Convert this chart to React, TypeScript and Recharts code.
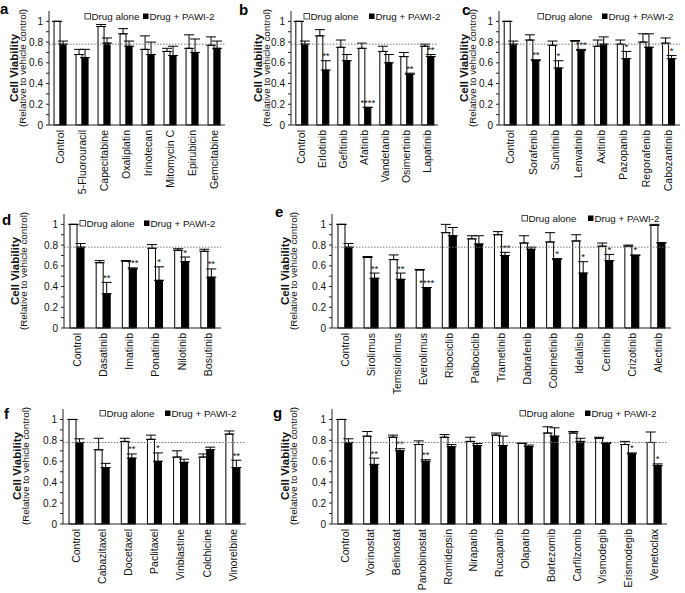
import React from 'react';
import { BarChart, Bar, XAxis, YAxis, ErrorBar, ReferenceLine } from 'recharts';

const FONT = '"Liberation Sans", Arial, Helvetica, sans-serif';

// panel a
const drugsA = ['Control', '5-Fluorouracil', 'Capecitabine', 'Oxaliplatin', 'Irinotecan', 'Mitomycin C', 'Epirubicin', 'Gemcitabine'];
const aloneA = [1.0, 0.68, 0.95, 0.88, 0.73, 0.71, 0.74, 0.77];
const aloneErrA = [0, 0.05, 0.02, 0.05, 0.13, 0.03, 0.13, 0.08];
const pawiA = [0.78, 0.65, 0.79, 0.76, 0.68, 0.67, 0.7, 0.74];
const pawiErrA = [0.03, 0.08, 0.05, 0.05, 0.12, 0.09, 0.13, 0.07];
const sigA = ['', '', '', '', '', '', '', ''];

// panel b
const drugsB = ['Control', 'Erlotinib', 'Gefitinib', 'Afatinib', 'Vandetanib', 'Osimertinib', 'Lapatinib'];
const aloneB = [1.0, 0.86, 0.75, 0.74, 0.71, 0.66, 0.76];
const aloneErrB = [0, 0.06, 0.07, 0.05, 0.05, 0.04, 0.02];
const pawiB = [0.78, 0.53, 0.62, 0.17, 0.6, 0.49, 0.66];
const pawiErrB = [0.03, 0.09, 0.06, 0, 0.08, 0.01, 0.02];
const sigB = ['', '**', '', '****', '', '**', '**'];

// panel c
const drugsC = ['Control', 'Sorafenib', 'Sunitinib', 'Lenvatinib', 'Axitinib', 'Pazopanib', 'Regorafenib', 'Cabozantinib'];
const aloneC = [1.0, 0.82, 0.77, 0.81, 0.76, 0.78, 0.8, 0.79];
const aloneErrC = [0, 0.05, 0.04, 0.005, 0.06, 0.04, 0.08, 0.05];
const pawiC = [0.78, 0.62, 0.55, 0.72, 0.78, 0.64, 0.75, 0.64];
const pawiErrC = [0.03, 0.01, 0.07, 0.01, 0.07, 0.07, 0.13, 0.03];
const sigC = ['', '**', '*', '***', '', '*', '', '*'];

// panel d
const drugsD = ['Control', 'Dasatinib', 'Imatinib', 'Ponatinib', 'Nilotinib', 'Bosutinib'];
const aloneD = [1.0, 0.63, 0.645, 0.77, 0.75, 0.74];
const aloneErrD = [0, 0.02, 0.005, 0.035, 0.015, 0.02];
const pawiD = [0.78, 0.33, 0.57, 0.46, 0.64, 0.49];
const pawiErrD = [0.035, 0.11, 0.01, 0.13, 0.045, 0.08];
const sigD = ['', '**', '***', '*', '*', '**'];

// panel e
const drugsE = ['Control', 'Sirolimus', 'Temsirolimus', 'Everolimus', 'Ribociclib', 'Palbociclib', 'Trametinib', 'Dabrafenib', 'Cobimetinib', 'Idelalisib', 'Ceritinib', 'Crizotinib', 'Alectinib'];
const aloneE = [1.0, 0.68, 0.66, 0.56, 0.92, 0.86, 0.9, 0.82, 0.83, 0.84, 0.79, 0.79, 0.99];
const aloneErrE = [0, 0.01, 0.045, 0.005, 0.08, 0.03, 0.03, 0.07, 0.09, 0.06, 0.03, 0.01, 0.01];
const pawiE = [0.78, 0.48, 0.47, 0.39, 0.89, 0.81, 0.7, 0.76, 0.66, 0.53, 0.65, 0.7, 0.82];
const pawiErrE = [0.035, 0.05, 0.06, 0, 0.08, 0.08, 0.03, 0.02, 0.01, 0.11, 0.06, 0.005, 0.005];
const sigE = ['', '**', '**', '****', '', '', '***', '', '*', '*', '*', '*', ''];

// panel f
const drugsF = ['Control', 'Cabazitaxel', 'Docetaxel', 'Paclitaxel', 'Vinblastine', 'Colchicine', 'Vinorelbine'];
const aloneF = [1.0, 0.71, 0.79, 0.81, 0.64, 0.64, 0.86];
const aloneErrF = [0, 0.11, 0.03, 0.04, 0.06, 0.03, 0.03];
const pawiF = [0.78, 0.54, 0.63, 0.6, 0.59, 0.71, 0.54];
const pawiErrF = [0.035, 0.04, 0.04, 0.08, 0.03, 0.025, 0.07];
const sigF = ['', '', '**', '*', '', '', '**'];

// panel g
const drugsG = ['Control', 'Vorinostat', 'Belinostat', 'Panobinostat', 'Romidepsin', 'Niraparib', 'Rucaparib', 'Olaparib', 'Bortezomib', 'Carfilzomib', 'Vismodegib', 'Erismodegib', 'Venetoclax'];
const aloneG = [1.0, 0.84, 0.83, 0.76, 0.83, 0.79, 0.85, 0.77, 0.87, 0.87, 0.82, 0.76, 0.78];
const aloneErrG = [0, 0.045, 0.02, 0.035, 0.025, 0.04, 0.02, 0.005, 0.06, 0.015, 0.01, 0.03, 0.1];
const pawiG = [0.78, 0.57, 0.7, 0.6, 0.74, 0.75, 0.75, 0.74, 0.84, 0.79, 0.77, 0.67, 0.56];
const pawiErrG = [0.035, 0.06, 0.02, 0.015, 0.02, 0.02, 0.09, 0.015, 0.08, 0.03, 0.01, 0.01, 0.015];
const sigG = ['', '**', '**', '**', '', '', '', '', '', '', '', '*', '*'];

const yTicks = [0, 0.1, 0.2, 0.3, 0.4, 0.5, 0.6, 0.7, 0.8, 0.9, 1.0];
const cutoff = 0.78;

type Row = {
  name: string; alone: number; aloneErr: number[]; pawi: number; pawiErr: number[]; ep: number; sig: string;
};

function makeRows(names: string[], alone: number[], aErr: number[], pawi: number[], pErr: number[], sig: string[]): Row[] {
  return names.map((n, i) => ({
    name: n,
    alone: alone[i],
    aloneErr: [0, aErr[i]],
    pawi: pawi[i],
    pawiErr: [0, pErr[i]],
    ep: pErr[i],
    sig: sig[i],
  }));
}

const fmtTick = (v: number) => {
  const k = Math.round(v * 10);
  if (k % 2) return '';
  if (k === 0) return '0';
  if (k === 10) return '1';
  return (k / 10).toFixed(1);
};

const XTick = (props: any) => {
  const { x, y, payload } = props;
  const ty = y + 2;
  return (
    <text x={x} y={ty} transform={`rotate(-90 ${x} ${ty})`} textAnchor="end" dy="0.36em"
      fontSize={10.5} fill="#111" fontFamily={FONT}>
      {payload.value}
    </text>
  );
};

const YW = 30;
const MT = 4;
const XH = 80;

interface PanelProps {
  rows: Row[];
  axisX: number;
  right: number;
  top: number;
  bottom: number;
}

function Panel({ rows, axisX, right, top, bottom }: PanelProps) {
  const width = right - axisX + YW + 3;
  const height = MT + (bottom - top) + XH;

  // black bar plus its significance stars, set just above the error bar
  const pawiShape = (p: any) => {
    const x = Number(p.x), y = Number(p.y), w = Number(p.width), hh = Number(p.height);
    const h = Math.abs(hh);
    const topY = Math.min(y, y + hh);
    let row: any = rows[p.index];
    if (!row && p.payload) row = p.payload;
    const sig = row ? row.sig : '';
    const errPx = row && row.pawi ? (row.ep / row.pawi) * h : 0;
    return (
      <g>
        <rect x={x} y={topY} width={w} height={h} fill="#000" stroke="#000" strokeWidth={1} />
        {sig ? (
          <text x={x + w / 2} y={topY - errPx - 1.5} textAnchor="middle" fontSize={9.5}
            fill="#111" fontFamily={FONT}>{sig}</text>
        ) : null}
      </g>
    );
  };

  return (
    <div style={{ position: 'absolute', left: axisX - YW, top: top - MT }}>
      <BarChart width={width} height={height} data={rows}
        margin={{ top: MT, right: 3, left: 0, bottom: 0 }}
        barCategoryGap="23%" barGap={0}>
        <XAxis dataKey="name" interval={0} tickLine={false} tickSize={0} tickMargin={3}
          height={XH} axisLine={{ stroke: '#222' }} tick={<XTick />} />
        <YAxis width={YW} domain={[0, 1.1]} ticks={yTicks} interval={0}
          tickSize={3} tickMargin={3} tickFormatter={fmtTick}
          axisLine={{ stroke: '#222' }} tickLine={{ stroke: '#222' }}
          tick={{ fontSize: 10, fill: '#111', fontFamily: FONT }} />
        <Bar dataKey="alone" fill="#fff" stroke="#000" strokeWidth={1} isAnimationActive={false}>
          <ErrorBar dataKey="aloneErr" direction="y" width={5} stroke="#000" strokeWidth={1} />
        </Bar>
        <Bar dataKey="pawi" fill="#000" shape={pawiShape} isAnimationActive={false}>
          <ErrorBar dataKey="pawiErr" direction="y" width={5} stroke="#000" strokeWidth={1} />
        </Bar>
        <ReferenceLine y={cutoff} stroke="#777" strokeDasharray="1.5 1.5" strokeWidth={1} />
      </BarChart>
    </div>
  );
}

function Legend({ x, y }: { x: number; y: number }) {
  return (
    <g fontFamily={FONT} fontSize={9.8} fill="#111">
      <rect x={x} y={y - 6.5} width={5.5} height={5.5} fill="#fff" stroke="#222" strokeWidth={0.8} />
      <text x={x + 6.5} y={y}>Drug alone</text>
    </g>
  );
}

function Legend2({ x, y }: { x: number; y: number }) {
  return (
    <g fontFamily={FONT} fontSize={9.8} fill="#111">
      <rect x={x} y={y - 6.5} width={5.5} height={5.5} fill="#000" />
      <text x={x + 6.5} y={y}>Drug + PAWI-2</text>
    </g>
  );
}

function YTitle({ x, y }: { x: number; y: number }) {
  return (
    <g fontFamily={FONT} fill="#111">
      <text x={x} y={y} transform={`rotate(-90 ${x} ${y})`} textAnchor="middle" dy="0.36em"
        fontSize={11.5} fontWeight="bold">Cell Viability</text>
      <text x={x + 8.5} y={y} transform={`rotate(-90 ${x + 8.5} ${y})`} textAnchor="middle" dy="0.36em"
        fontSize={9.8}>(Relative to vehicle control)</text>
    </g>
  );
}

const rowsA = makeRows(drugsA, aloneA, aloneErrA, pawiA, pawiErrA, sigA);
const rowsB = makeRows(drugsB, aloneB, aloneErrB, pawiB, pawiErrB, sigB);
const rowsC = makeRows(drugsC, aloneC, aloneErrC, pawiC, pawiErrC, sigC);
const rowsD = makeRows(drugsD, aloneD, aloneErrD, pawiD, pawiErrD, sigD);
const rowsE = makeRows(drugsE, aloneE, aloneErrE, pawiE, pawiErrE, sigE);
const rowsF = makeRows(drugsF, aloneF, aloneErrF, pawiF, pawiErrF, sigF);
const rowsG = makeRows(drugsG, aloneG, aloneErrG, pawiG, pawiErrG, sigG);

export default function App() {
  return (
    <div style={{ position: 'absolute', left: 0, top: 0, width: 685, height: 593, background: '#fff', overflow: 'hidden', fontFamily: FONT }}>
      <Panel rows={rowsA} axisX={49} right={225} top={11} bottom={125} />
      <Panel rows={rowsB} axisX={291} right={438} top={11} bottom={125} />
      <Panel rows={rowsC} axisX={499} right={680} top={11} bottom={125} />
      <Panel rows={rowsD} axisX={64} right={221} top={214} bottom={328} />
      <Panel rows={rowsE} axisX={332} right={671} top={214} bottom={328} />
      <Panel rows={rowsF} axisX={63} right={246} top={409} bottom={524} />
      <Panel rows={rowsG} axisX={332} right={667} top={409} bottom={524} />
      <svg width={685} height={593} style={{ position: 'absolute', left: 0, top: 0, pointerEvents: 'none' }}>
        <g fontFamily={FONT} fontWeight="bold" fontSize={15} fill="#000">
          <text x={0} y={14}>a</text>
          <text x={239} y={15}>b</text>
          <text x={462} y={15}>c</text>
          <text x={2} y={225}>d</text>
          <text x={275} y={217}>e</text>
          <text x={4} y={419}>f</text>
          <text x={273} y={418}>g</text>
        </g>
        <YTitle x={14} y={68} />
        <YTitle x={258} y={68} />
        <YTitle x={464} y={68} />
        <YTitle x={15} y={271} />
        <YTitle x={285} y={271} />
        <YTitle x={17} y={466} />
        <YTitle x={285} y={466} />
        <Legend x={85} y={20} />
        <Legend2 x={143} y={20} />
        <Legend x={304} y={20} />
        <Legend2 x={369} y={20} />
        <Legend x={538} y={20} />
        <Legend2 x={602} y={20} />
        <Legend x={80} y={227} />
        <Legend2 x={144} y={227} />
        <Legend x={522} y={222} />
        <Legend2 x={588} y={222} />
        <Legend x={100} y={417} />
        <Legend2 x={165} y={417} />
        <Legend x={520} y={417} />
        <Legend2 x={585} y={417} />
      </svg>
    </div>
  );
}
